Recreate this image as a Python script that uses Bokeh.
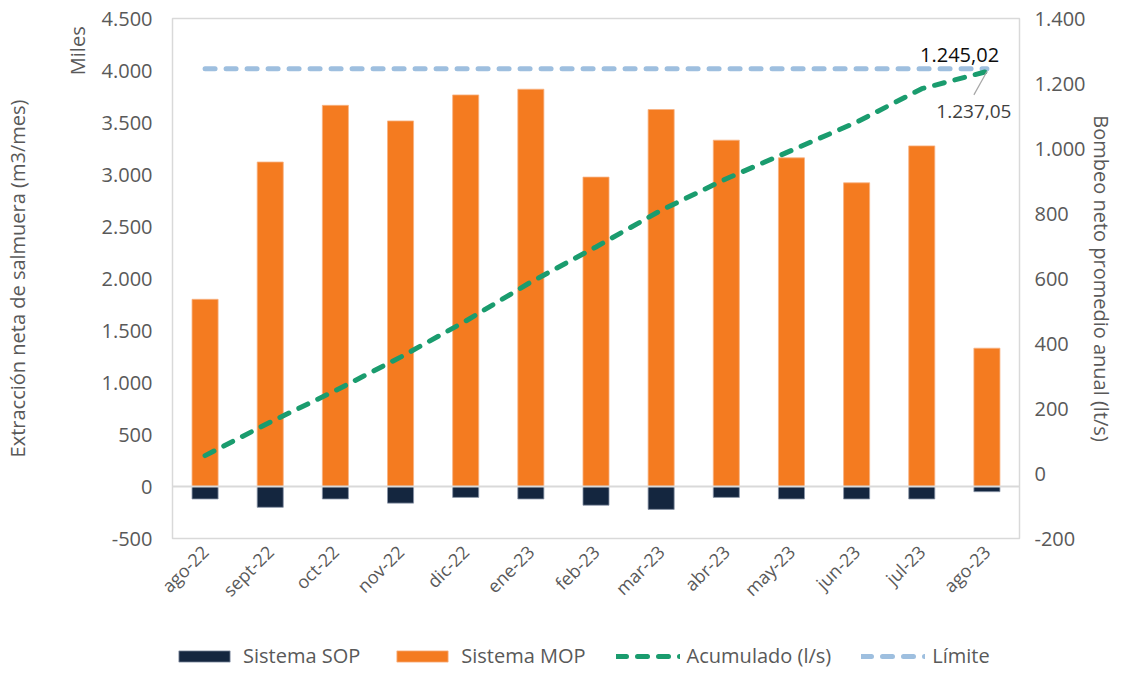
import math
from bokeh.plotting import figure
from bokeh.layouts import column
from bokeh.models import (Range1d, LinearAxis, FixedTicker, Span, Label, Legend,
                          LegendItem, ColumnDataSource)
from bokeh.embed import file_html
from bokeh.resources import INLINE

months = ["ago-22", "sept-22", "oct-22", "nov-22", "dic-22", "ene-23", "feb-23",
          "mar-23", "abr-23", "may-23", "jun-23", "jul-23", "ago-23"]
mop = [1800, 3120, 3665, 3515, 3765, 3820, 2975, 3625, 3330, 3160, 2920, 3275, 1330]
sop = [-120, -200, -120, -160, -105, -120, -180, -220, -105, -120, -120, -120, -50]
acumulado = [55, 158, 255, 358, 469, 589, 697, 810, 907, 994, 1081, 1184, 1237.05]
limite = [1245.02] * 13
left_ticks = list(range(-500, 5000, 500))
right_ticks = list(range(-200, 1600, 200))
series_names = ["Sistema SOP", "Sistema MOP", "Acumulado (l/s)", "Límite"]

def fmt(v):
    return f"{v:,}".replace(",", ".")

FONT = "Open Sans"
GREY = "#595959"
C_SOP, C_MOP, C_ACUM, C_LIM = "#14263F", "#F47B20", "#1A9C6E", "#9EBFDF"

xs = list(range(len(months)))
src = ColumnDataSource(dict(x=xs, mop=mop, sop=sop, acum=acumulado, lim=limite))

p = figure(width=1119, height=620, output_backend="svg", toolbar_location=None,
           x_range=Range1d(-0.5, 12.5), y_range=Range1d(-500, 4500))
p.min_border_left = 165
p.min_border_right = 100
p.min_border_top = 18
p.min_border_bottom = 82
p.outline_line_color = "#D9D9D9"
p.outline_line_width = 1.5
p.xgrid.visible = False
p.ygrid.visible = False

p.extra_y_ranges = {"right": Range1d(-200, 1400)}

p.vbar(x="x", top="sop", bottom=0, width=0.4, source=src,
       fill_color=C_SOP, line_color="#8A96A8", line_width=0.8)
p.vbar(x="x", top="mop", bottom=0, width=0.4, source=src,
       fill_color=C_MOP, line_color="#F8B383", line_width=0.8)

p.add_layout(Span(location=0, dimension="width", line_color="#D9D9D9", line_width=2))

p.line(x="x", y="lim", source=src, y_range_name="right",
       line_color=C_LIM, line_width=5, line_dash="10 11", line_cap="round")
p.line(x="x", y="acum", source=src, y_range_name="right",
       line_color=C_ACUM, line_width=5, line_dash="10 11", line_cap="round")

# leader line for end value label
p.segment(x0=[12], y0=[acumulado[-1]], x1=[11.8], y1=[1165], y_range_name="right",
          line_color="#A6A6A6", line_width=1.2)

p.add_layout(Label(x=11.58, y=1289, y_range_name="right", text="1.245,02",
                   text_font=FONT, text_font_size="20px", text_color="#0D0D0D",
                   text_align="center", text_baseline="middle"))
p.add_layout(Label(x=11.8, y=1113, y_range_name="right", text="1.237,05",
                   text_font=FONT, text_font_size="19px", text_color="#404040",
                   text_align="center", text_baseline="middle"))

def plain_axis(ax, ticks, size="20px"):
    ax.ticker = FixedTicker(ticks=ticks)
    ax.major_label_text_font = FONT
    ax.major_label_text_font_size = size
    ax.major_label_text_color = GREY
    ax.axis_line_color = None
    ax.major_tick_line_color = None
    ax.minor_tick_line_color = None
    ax.major_tick_out = 0
    ax.major_tick_in = 0
    ax.minor_tick_out = 0
    ax.minor_tick_in = 0
    ax.axis_label_text_font = FONT
    ax.axis_label_text_font_size = "20px"
    ax.axis_label_text_font_style = "normal"
    ax.axis_label_text_color = GREY

# x axis
xa = p.xaxis[0]
plain_axis(xa, xs, "18px")
xa.major_label_overrides = {i: m for i, m in enumerate(months)}
xa.major_label_orientation = math.pi / 4
xa.major_label_standoff = 10

# left axis (tick labels only)
ya = p.yaxis[0]
plain_axis(ya, left_ticks)
ya.major_label_overrides = {v: fmt(v) for v in left_ticks}
ya.major_label_standoff = 20

# outer left axis: "Miles" unit near the top, plus the axis title
ya2 = LinearAxis()
plain_axis(ya2, [4190])
ya2.major_label_overrides = {4190: "Miles"}
ya2.major_label_orientation = "parallel"
ya2.major_label_standoff = 7
ya2.axis_label = "Extracción neta de salmuera (m3/mes)"
ya2.axis_label_standoff = 31
p.add_layout(ya2, "left")

# right axis
ra = LinearAxis(y_range_name="right")
plain_axis(ra, right_ticks)
ra.major_label_overrides = {v: fmt(v) for v in right_ticks}
ra.major_label_standoff = 15
ra.axis_label = "Bombeo neto promedio anual (lt/s)"
ra.axis_label_standoff = 0
p.add_layout(ra, "right")

# legend strip below the chart (key renderers are hidden; only their legend keys show)
q = figure(width=1119, height=49, output_backend="svg", toolbar_location=None,
           x_range=Range1d(0, 1), y_range=Range1d(0, 1),
           x_axis_location=None, y_axis_location=None, min_border=0)
q.outline_line_color = None
q.xgrid.visible = False
q.ygrid.visible = False
k_sop = q.vbar(x=[0.5], bottom=[0.4], top=[0.6], width=0.1, fill_color=C_SOP,
               line_color="#8A96A8", line_width=0.8, visible=False)
k_mop = q.vbar(x=[0.5], bottom=[0.4], top=[0.6], width=0.1, fill_color=C_MOP,
               line_color="#F8B383", line_width=0.8, visible=False)
k_acum = q.line(x=[0.4, 0.6], y=[0.5, 0.5], line_color=C_ACUM, line_width=5,
                line_dash="10 11", line_cap="round", visible=False)
k_lim = q.line(x=[0.4, 0.6], y=[0.5, 0.5], line_color=C_LIM, line_width=5,
               line_dash="10 11", line_cap="round", visible=False)
legend = Legend(items=[LegendItem(label=n, renderers=[r]) for n, r in
                       zip(series_names, [k_sop, k_mop, k_acum, k_lim])],
                location=(0, 0), orientation="horizontal",
                glyph_width=64, glyph_height=14, label_standoff=7,
                padding=0, margin=0, spacing=30, label_height=20,
                label_text_font=FONT, label_text_font_size="20px",
                label_text_color=GREY, border_line_color=None,
                background_fill_alpha=0, inactive_fill_alpha=0)
q.add_layout(legend, "center")

open("out.html", "w").write(file_html(column(p, q, spacing=0), INLINE))
